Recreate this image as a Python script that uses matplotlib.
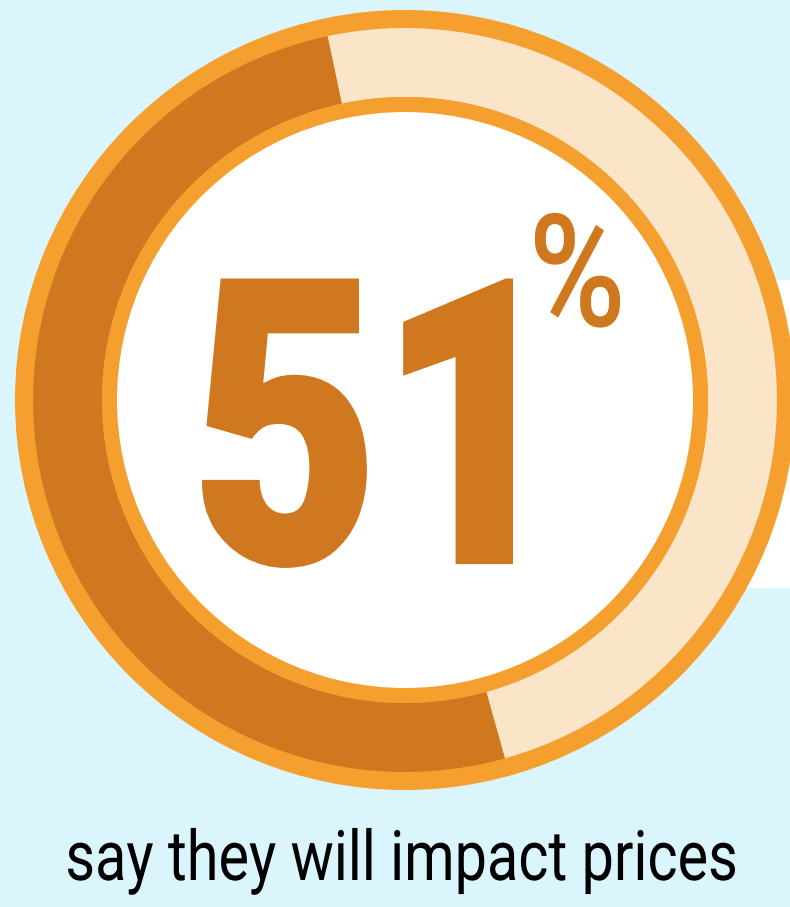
import matplotlib
matplotlib.use("Agg")
import matplotlib.pyplot as plt
import matplotlib.patches as mpatches
import matplotlib.patheffects as pe
from matplotlib.transforms import Affine2D, Bbox
from matplotlib.textpath import TextPath
from matplotlib.font_manager import FontProperties

# share of respondents
shares = [51, 49]
big_label = "51"
pct_label = "%"
caption = "say they will impact prices"

bg = "#dbf5fd"
dark = "#d0781f"
ring = "#f59f2f"
peach = "#fbe5c8"

W, H = 790, 907
DPI = 100
fig = plt.figure(figsize=(W / DPI, H / DPI), dpi=DPI)
fig.patch.set_facecolor(bg)
ax = fig.add_axes([0, 0, 1, 1])
ax.set_facecolor(bg)
ax.set_xlim(0, W)
ax.set_ylim(0, H)


class Squeeze(pe.AbstractPathEffect):
    """Draw text narrower (condensed look), optionally with a fattening stroke."""

    def __init__(self, sx, c, tc, stroke=0, color=None):
        super().__init__()
        self.sx, self.c, self.tc = sx, c, tc
        self.stroke, self.color = stroke, color

    def draw_path(self, renderer, gc, tpath, affine, rgbFace=None):
        t = affine + Affine2D().translate(-self.c, 0).scale(self.sx, 1).translate(self.tc, 0)
        if self.stroke:
            gc0 = renderer.new_gc()
            gc0.copy_properties(gc)
            gc0.set_linewidth(self.stroke)
            gc0.set_foreground(self.color)
            gc0.set_joinstyle("miter")
            renderer.draw_path(gc0, tpath, t)
            gc0.restore()
        renderer.draw_path(gc, tpath, t, rgbFace)


def condensed(left, right, base, s, fontsize, stroke=0, family=None, weight="normal", color="k"):
    # place text, then squeeze its ink to span left..right (pixels from the left)
    txt = ax.text((left + right) / 2, H - base, s, ha="center", va="baseline", zorder=5,
                  fontsize=fontsize, family=family, fontweight=weight, color=color)
    fig.canvas.draw()
    bb = txt.get_window_extent()
    prop = FontProperties(family=family, weight=weight)
    ext = TextPath((0, 0), s, size=fontsize, prop=prop).get_extents()
    k = DPI / 72
    ink_l = bb.x0 + ext.x0 * k
    ink_r = bb.x0 + ext.x1 * k
    sx = (right - left - stroke * k) / (ink_r - ink_l)
    c = (ink_l + ink_r) / 2
    tc = ax.transData.transform(((left + right) / 2, 0))[0]
    txt.set_path_effects([Squeeze(sx, c, tc, stroke, color)])
    # report the squeezed box, not the full-width one
    box = Bbox([[tc + (bb.x0 - c) * sx, bb.y0], [tc + (bb.x1 - c) * sx, bb.y1]])
    txt.get_window_extent = lambda renderer=None, dpi=None: box
    return txt


# white panel peeking out on the right
ax.add_patch(mpatches.Rectangle((600, H - 588), 200, 308, facecolor="white",
                                edgecolor="none", zorder=0))

cx, cy = 405, H - 400
ax.add_patch(mpatches.Circle((cx, cy), 390, facecolor=ring, edgecolor="none", zorder=1))
ax.pie(shares, colors=[dark, peach], startangle=102, counterclock=True,
       center=(cx, cy), radius=372,
       wedgeprops=dict(width=69, edgecolor="none", zorder=2))
ax.add_patch(mpatches.Circle((cx, cy), 303, facecolor=ring, edgecolor="none", zorder=3))
ax.add_patch(mpatches.Circle((cx, cy), 288, facecolor="white", edgecolor="none", zorder=4))

ax.set_xlim(0, W)
ax.set_ylim(0, H)
ax.set_aspect("auto")
ax.axis("off")

fam = ["Roboto", "DejaVu Sans"]
condensed(202, 513, 562, big_label, 285, stroke=3, family=fam, weight="black", color=dark)
condensed(535, 620, 326, pct_label, 113, family=fam, weight="medium", color=dark)
condensed(68, 735, 880, caption, 50, family=fam, color="black")

fig.savefig("out.png", dpi=DPI, facecolor=bg)
